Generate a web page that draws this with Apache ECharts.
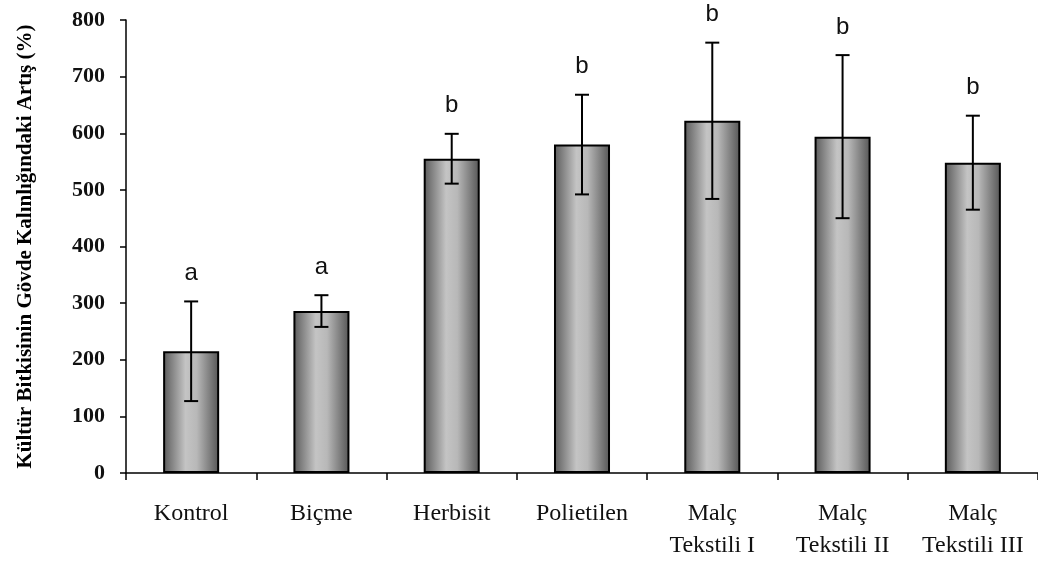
<!DOCTYPE html>
<html>
<head>
<meta charset="utf-8">
<script src="https://cdn.jsdelivr.net/npm/echarts@6/dist/echarts.min.js"></script>
<style>
html,body{margin:0;padding:0;background:#fff;}
#chart{width:1038px;height:562px;}
</style>
</head>
<body>
<div id="chart"></div>
<script>
var categories = ['Kontrol', 'Biçme', 'Herbisit', 'Polietilen', 'Malç\nTekstili I', 'Malç\nTekstili II', 'Malç\nTekstili III'];
var means = [215, 286, 555, 580, 622, 594, 548];
var errors = [88, 28, 44, 88, 138, 144, 83];
var letters = ['a', 'a', 'b', 'b', 'b', 'b', 'b'];
var yTicks = [0, 100, 200, 300, 400, 500, 600, 700, 800];
var yTitle = 'Kültür Bitkisinin Gövde Kalınlığındaki Artış (%)';

var chart = echarts.init(document.getElementById('chart'));
var errData = categories.map(function (c, i) { return [i, means[i] - errors[i], means[i] + errors[i], letters[i]]; });

chart.setOption({
  animation: false,
  grid: { left: 126, right: -2, top: 20, bottom: 89, containLabel: false },
  xAxis: {
    type: 'category',
    data: categories,
    axisLine: { lineStyle: { color: '#000', width: 1.5 } },
    axisTick: { show: true, alignWithLabel: false, length: 7, lineStyle: { color: '#000', width: 1.5 } },
    axisLabel: { color: '#111', fontFamily: 'Liberation Serif', fontSize: 24, margin: 25, lineHeight: 32, interval: 0 }
  },
  yAxis: {
    type: 'value',
    min: yTicks[0], max: yTicks[yTicks.length - 1], interval: 100,
    name: yTitle,
    nameLocation: 'middle',
    nameRotate: 90,
    nameGap: 90,
    nameTextStyle: { color: '#000', fontFamily: 'Liberation Serif', fontWeight: 'bold', fontSize: 21 },
    axisLine: { show: true, lineStyle: { color: '#000', width: 1.5 } },
    axisTick: { show: true, length: 6, lineStyle: { color: '#000', width: 1.5 } },
    splitLine: { show: false },
    axisLabel: { color: '#111', fontFamily: 'Liberation Serif', fontWeight: 'bold', fontSize: 22, margin: 21 }
  },
  series: [
    {
      type: 'bar',
      data: means,
      barWidth: '43%',
      itemStyle: {
        borderColor: '#000', borderWidth: 2,
        color: new echarts.graphic.LinearGradient(0, 0, 1, 0, [
          { offset: 0, color: '#5a5a5a' },
          { offset: 0.4, color: '#c4c4c4' },
          { offset: 0.6, color: '#b8b8b8' },
          { offset: 1, color: '#555555' }
        ])
      }
    },
    {
      type: 'custom',
      data: errData,
      z: 10,
      renderItem: function (params, api) {
        var x = api.value(0);
        var lo = api.coord([x, api.value(1)]);
        var hi = api.coord([x, api.value(2)]);
        var cap = 7;
        var st = { stroke: '#000', lineWidth: 2 };
        return {
          type: 'group',
          children: [
            { type: 'line', shape: { x1: hi[0], y1: hi[1], x2: lo[0], y2: lo[1] }, style: st },
            { type: 'line', shape: { x1: hi[0] - cap, y1: hi[1], x2: hi[0] + cap, y2: hi[1] }, style: st },
            { type: 'line', shape: { x1: lo[0] - cap, y1: lo[1], x2: lo[0] + cap, y2: lo[1] }, style: st },
            { type: 'text', style: { text: api.value(3), x: hi[0], y: hi[1] - 16, textAlign: 'center', textVerticalAlign: 'bottom', fill: '#111', font: '24px "Liberation Sans"' } }
          ]
        };
      }
    }
  ]
});
</script>
</body>
</html>
